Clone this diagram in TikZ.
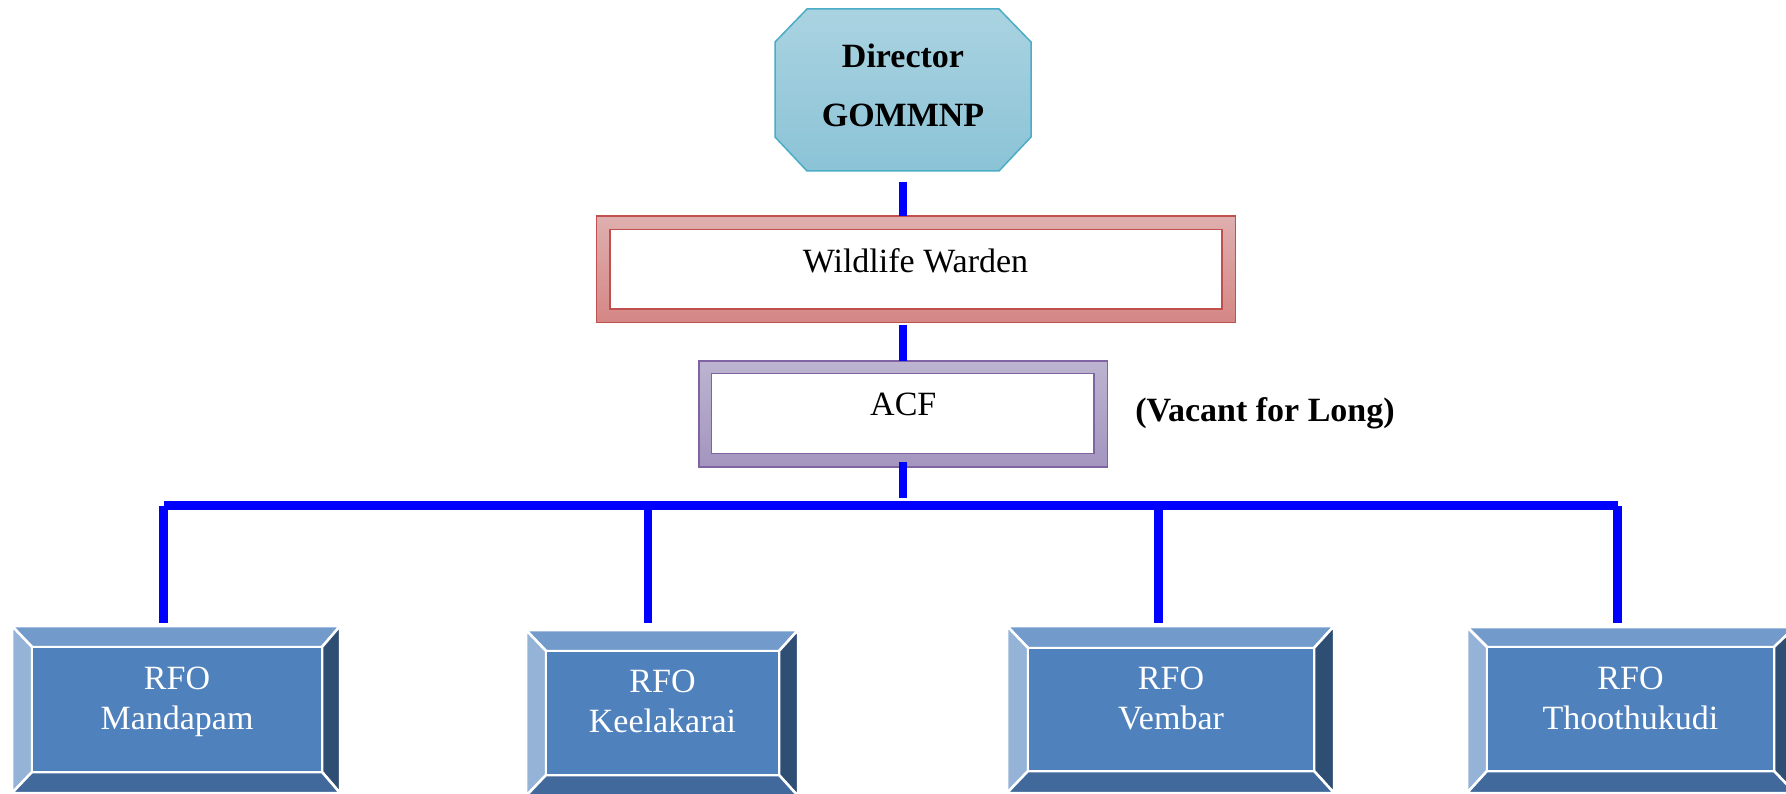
\documentclass[tikz,border=0pt]{standalone}
\usepackage{fontspec}
\setmainfont{Liberation Serif}
\usetikzlibrary{fit}
\definecolor{connblue}{RGB}{0,0,255}
\definecolor{dirtop}{RGB}{170,211,225}
\definecolor{dirbot}{RGB}{139,195,214}
\definecolor{dirline}{RGB}{75,172,198}
\definecolor{wardtop}{RGB}{223,175,175}
\definecolor{wardbot}{RGB}{212,135,133}
\definecolor{wardline}{RGB}{192,80,77}
\definecolor{acftop}{RGB}{188,180,208}
\definecolor{acfbot}{RGB}{163,149,191}
\definecolor{acfline}{RGB}{128,100,162}
\definecolor{rfoface}{RGB}{79,129,189}
\definecolor{rfotopc}{RGB}{114,155,204}
\definecolor{rfoleft}{RGB}{149,179,215}
\definecolor{rforight}{RGB}{47,78,116}
\definecolor{rfobot}{RGB}{65,105,156}
\tikzset{
  conn/.style={line width=8.5pt, draw=connblue, line cap=butt},
  txt/.style={font=\fontsize{34pt}{40pt}\selectfont, inner sep=0pt, anchor=base},
  btxt/.style={font=\fontsize{34pt}{40pt}\selectfont\bfseries, inner sep=0pt, anchor=base},
  wtxt/.style={txt, text=white},
  anchorbox/.style={inner sep=0pt, outer sep=0pt},
  wardouter/.style={draw=wardline, line width=1.5pt, top color=wardtop, bottom color=wardbot, inner sep=0pt, outer sep=0pt},
  wardinner/.style={draw=wardline, line width=1.5pt, fill=white, inner sep=0pt},
  acfouter/.style={draw=acfline, line width=1.5pt, top color=acftop, bottom color=acfbot, inner sep=0pt, outer sep=0pt},
  acfinner/.style={draw=acfline, line width=1.5pt, fill=white, inner sep=0pt},
  bevel/.style={draw=white, line width=2.5pt, line join=miter},
}
% #1 name, #2 L, #3 T, #4 R, #5 B, #6 l, #7 t, #8 r, #9 b
\newcommand{\rfobox}[9]{%
  \fill[bevel, fill=rfotopc] (#2,#3) -- (#4,#3) -- (#8,#7) -- (#6,#7) -- cycle;
  \fill[bevel, fill=rfoleft] (#2,#3) -- (#6,#7) -- (#6,#9) -- (#2,#5) -- cycle;
  \fill[bevel, fill=rforight] (#4,#3) -- (#4,#5) -- (#8,#9) -- (#8,#7) -- cycle;
  \fill[bevel, fill=rfobot] (#2,#5) -- (#4,#5) -- (#8,#9) -- (#6,#9) -- cycle;
  \filldraw[bevel, fill=rfoface] (#6,#7) rectangle (#8,#9);
  \node[anchorbox, fit={(#2,#3) (#4,#5)}] (#1) {};
}
\begin{document}
\begin{tikzpicture}[x=1pt,y=-1pt]
\useasboundingbox (0,0) rectangle (1786,794);
\clip (0,0) rectangle (1786,794);

% Director
\shade[top color=dirtop, bottom color=dirbot] (807,9) -- (999,9) -- (1031,42) -- (1031,137) -- (999,171) -- (807,171) -- (775,137) -- (775,42) -- cycle;
\draw[dirline, line width=1.5pt] (807,9) -- (999,9) -- (1031,42) -- (1031,137) -- (999,171) -- (807,171) -- (775,137) -- (775,42) -- cycle;
\node[anchorbox, minimum width=256pt, minimum height=162pt] (dir) at (903,90) {};
\node[btxt] at (903,68) {Director};
\node[btxt] at (903,127) {GOMMNP};

% Wildlife Warden
\node[wardouter, minimum width=639pt, minimum height=106.7pt] (warden) at (915.75,269.35) {};
\node[wardinner, minimum width=612pt, minimum height=79.7pt] (wardin) at (915.95,269.15) {};
\node[txt] at (915.5,273) {Wildlife Warden};

% ACF
\node[acfouter, minimum width=408.3pt, minimum height=106.3pt] (acf) at (903.2,413.9) {};
\node[acfinner, minimum width=382.3pt, minimum height=80pt] (acfin) at (902.85,413.3) {};
\node[txt] at (903.3,415) {ACF};
\node[btxt] (vacant) at (1265,421.5) {(Vacant for Long)};

% RFO boxes
\rfobox{rfo1}{12}{626}{340}{793}{32}{647}{322}{772}
\rfobox{rfo2}{526}{630}{798}{796}{546}{651}{779}{775}
\rfobox{rfo3}{1007}{626}{1334}{793}{1028}{648}{1314}{771}
\rfobox{rfo4}{1467}{627}{1795}{793}{1487}{647}{1774}{771}

\node[wtxt] at (177,689) {RFO};
\node[wtxt] at (177,729) {Mandapam};
\node[wtxt] at (662.5,692) {RFO};
\node[wtxt] at (662.5,732) {Keelakarai};
\node[wtxt] at (1171,689) {RFO};
\node[wtxt] at (1171,729) {Vembar};
\node[wtxt] at (1630.5,689) {RFO};
\node[wtxt] at (1630.5,729) {Thoothukudi};

% Connectors
\coordinate (barl) at (163.5,505.5);
\coordinate (d2) at (648,505.5);
\coordinate (d3) at (1158.3,505.5);
\coordinate (barr) at (1617.7,505.5);

\draw[conn] ([yshift=-11pt]dir.south) -- (dir.south |- warden.north);
\draw[conn] ([yshift=-2pt]acf.north |- warden.south) -- (acf.north);
\draw[conn] ([yshift=5pt]acf.south) -- ([yshift=7.5pt]acf.south |- barl);
\draw[conn] (barl) -- (barr);
\draw[conn] (barl) -- ([yshift=3pt]barl |- rfo1.north);
\draw[conn] (d2) -- ([yshift=7pt]d2 |- rfo2.north);
\draw[conn] (d3) -- ([yshift=3pt]d3 |- rfo3.north);
\draw[conn] (barr) -- ([yshift=4pt]barr |- rfo4.north);
\end{tikzpicture}
\end{document}
